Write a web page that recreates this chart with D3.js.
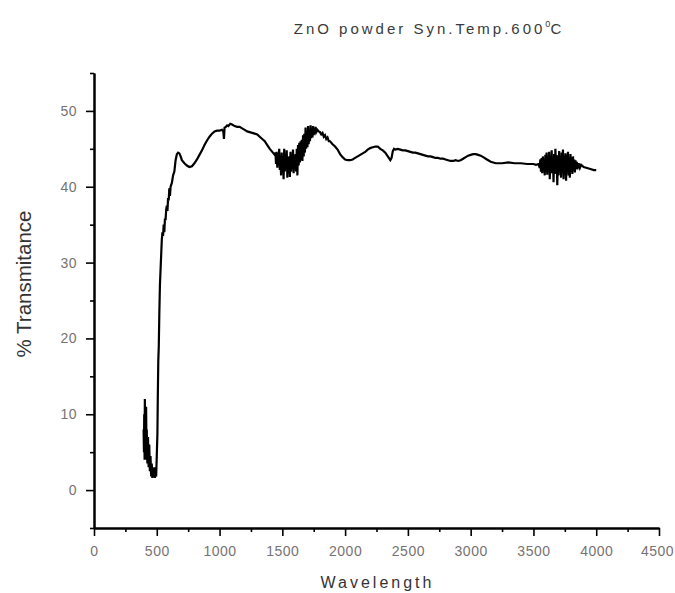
<!DOCTYPE html>
<html>
<head>
<meta charset="utf-8">
<script src="https://cdn.jsdelivr.net/npm/d3@7"></script>
<style>
  body { margin: 0; background: #fff; }
  svg { display: block; font-family: "Liberation Sans", Arial, sans-serif; }
</style>
</head>
<body>
<svg id="chart" width="675" height="593"></svg>
<script>
// wavelength / transmittance
const wavelength = [
  395,398,400,403,405,408,410,413,415,418,420,425,430,435,440,445,450,455,460,465,470,475,480,485,490,495,
  500,505,508,512,516,520,525,530,535,540,545,550,555,560,565,570,575,580,585,590,595,600,605,610,620,630,640,650,660,670,680,690,
  700,720,740,760,780,800,820,840,860,880,900,920,940,960,980,1000,1020,1030,1035,1040,1050,1060,1070,1085,
  1100,1120,1140,1160,1180,1200,1220,1240,1260,1280,1300,1320,1340,1360,1380,1400,1420,1440,
  1445,1450,1455,1460,1465,1470,1475,1480,1485,1490,1495,1500,1505,1510,1515,1520,1525,1530,1535,1540,1545,1550,
  1555,1560,1565,1570,1575,1580,1585,1590,1595,1600,1605,1610,1615,1620,1625,1630,1635,1640,1645,1650,1655,1660,
  1665,1670,1675,1680,1685,1690,1695,1700,1705,1710,1715,1720,1725,1730,1735,1740,1745,1750,1755,1760,1765,1770,
  1780,1790,1800,1810,1820,1830,1840,1850,1860,1870,1880,1900,1920,1940,1960,1980,2000,2020,2040,2060,2080,2100,
  2120,2140,2160,2180,2200,2220,2240,2260,2280,2300,2320,2340,2360,2370,2380,2390,2400,2420,2440,2460,2480,2500,
  2520,2540,2560,2580,2600,2620,2640,2660,2680,2700,2720,2740,2760,2780,2800,2820,2840,2860,2880,2900,2920,2940,
  2960,2980,3000,3020,3040,3060,3080,3100,3120,3140,3160,3180,3200,3250,3300,3350,3400,3450,3500,3520,3540,
  3550,3555,3560,3565,3570,3575,3580,3585,3590,3595,3600,3605,3610,3615,3620,3625,3630,3635,3640,3645,3650,3655,
  3660,3665,3670,3675,3680,3685,3690,3695,3700,3705,3710,3715,3720,3725,3730,3735,3740,3745,3750,3755,3760,3765,
  3770,3775,3780,3785,3790,3795,3800,3805,3810,3815,3820,3825,3830,3835,3840,3845,3850,3860,3870,3880,3900,3920,
  3940,3960,3980,4000
];
const transmittance = [
  8,5,10,4,12,6,9,4,11,5,8,3.5,7,3,6,2.5,4.5,1.8,3.5,1.6,2.5,1.7,3.0,1.6,2.2,1.8,
  4.5,7.4,12,17,19,23,27,29,31,33,34,33.5,35,34,35.8,35.6,37,37.5,36.8,38.5,38.2,39.8,38.8,40,40.5,41.5,42.0,43.5,44.3,44.5,44.4,44.0,
  43.5,43.1,42.8,42.6,42.7,43.1,43.6,44.2,44.8,45.5,46.1,46.6,47.0,47.3,47.4,47.4,47.5,47.3,46.3,47.8,47.9,48.1,48.0,48.3,
  48.2,48.0,47.9,47.9,47.7,47.5,47.3,47.2,47.1,47.0,46.9,46.6,46.3,46.0,45.5,45.0,44.6,44.2,
  44.5,43.0,44.6,42.5,44.4,42.8,45.0,42.2,44.0,41.5,44.5,42.5,43.8,41.0,45.0,42.0,44.2,42.6,44.8,41.2,43.9,42.4,
  44.0,41.3,44.6,42.0,43.5,42.8,44.9,41.8,44.0,42.3,44.3,42.0,45.0,41.5,45.5,42.8,45.8,43.2,46.0,43.5,46.2,43.4,
  46.8,44.0,47.0,44.5,47.8,45.0,47.3,45.2,48.0,45.6,47.5,46.0,48.1,46.4,47.6,46.5,48.0,46.8,47.7,47.0,47.9,47.2,
  47.5,47.3,47.2,46.9,47.1,46.6,46.8,46.3,46.5,46.0,46.0,45.6,45.3,44.9,44.3,43.9,43.6,43.5,43.5,43.6,43.8,44.0,
  44.2,44.4,44.6,44.9,45.1,45.2,45.3,45.3,45.0,44.8,44.5,44.0,43.5,43.8,44.7,45.0,44.9,45.0,44.9,44.8,44.8,44.7,
  44.6,44.5,44.5,44.4,44.3,44.2,44.1,44.0,44.0,43.9,43.8,43.8,43.7,43.7,43.6,43.5,43.4,43.4,43.5,43.4,43.5,43.7,
  43.9,44.1,44.2,44.3,44.3,44.2,44.1,43.9,43.7,43.5,43.3,43.2,43.1,43.1,43.2,43.1,43.1,43.0,43.0,42.9,43.0,
  42.5,43.6,42.0,43.8,41.8,44.0,42.3,43.5,41.5,44.2,42.0,44.5,41.6,43.8,42.2,44.6,41.0,44.0,41.8,44.8,42.0,43.9,
  40.6,44.3,41.7,45.0,42.1,44.2,40.2,44.0,41.5,44.7,42.4,43.9,41.2,44.5,42.0,44.9,41.0,44.1,41.9,44.4,40.8,44.2,
  42.3,44.6,41.5,43.8,41.2,44.3,42.0,43.9,41.7,44.0,42.2,43.6,41.9,43.5,42.4,43.3,42.3,43.1,42.5,42.9,42.6,42.5,
  42.4,42.3,42.2,42.2
];

const xMajor = d3.range(0, 4501, 500);
const xMinor = d3.range(250, 4500, 500);
const yMajor = [0, 10, 20, 30, 40, 50];
const yMinor = [-5, 5, 15, 25, 35, 45, 55];

const svg = d3.select('#chart');
const plotLeft = 94, plotRight = 659, plotTop = 73, plotBottom = 528;

const x = d3.scaleLinear().domain([0, 4500]).range([plotLeft, plotRight]);
const y = d3.scaleLinear().domain([-5, 55]).range([plotBottom, plotTop]);

const labelColor = '#787272';

// x axis
const gx = svg.append('g').attr('transform', `translate(0,${plotBottom})`);
gx.call(d3.axisBottom(x).tickValues(xMajor).tickSize(8).tickSizeOuter(0).tickPadding(10).tickFormat(d3.format('d')));
gx.append('g').call(d3.axisBottom(x).tickValues(xMinor).tickSize(4).tickSizeOuter(0).tickFormat(''));
gx.selectAll('.domain').attr('stroke', '#000').attr('stroke-width', 2);
gx.selectAll('.tick line').attr('stroke', '#000').attr('stroke-width', 1.6);
gx.selectAll('.tick text').attr('fill', labelColor).style('font-size', '14px').style('letter-spacing', '0.5px');
// last label sits right at the page edge
gx.selectAll('.tick text').filter(d => d === 4500).attr('dx', -2);

// y axis
const gy = svg.append('g').attr('transform', `translate(${plotLeft},0)`);
gy.call(d3.axisLeft(y).tickValues(yMajor).tickSize(8).tickSizeOuter(0).tickPadding(9).tickFormat(d3.format('d')));
gy.append('g').call(d3.axisLeft(y).tickValues(yMinor).tickSize(4).tickSizeOuter(0).tickFormat(''));
gy.selectAll('.domain').attr('stroke', '#000').attr('stroke-width', 2);
gy.selectAll('.tick line').attr('stroke', '#000').attr('stroke-width', 1.6);
gy.selectAll('.tick text').attr('fill', labelColor).style('font-size', '14px').style('letter-spacing', '0.5px');

// the spectrum
const pts = wavelength.map((w, i) => [w, transmittance[i]]);
svg.append('path')
  .datum(pts)
  .attr('fill', 'none')
  .attr('stroke', '#000')
  .attr('stroke-width', 2.2)
  .attr('d', d3.line().x(d => x(d[0])).y(d => y(d[1])));

// title
const title = svg.append('text')
  .attr('x', 429).attr('y', 34)
  .attr('text-anchor', 'middle')
  .attr('fill', '#3a3a3a')
  .style('font-size', '15px')
  .style('letter-spacing', '3px')
  .text('ZnO powder Syn.Temp.600');
title.append('tspan').attr('dy', -7).style('font-size', '9px').style('letter-spacing', '0px').text('0');
title.append('tspan').attr('dy', 7).text('C');

// axis titles
svg.append('text')
  .attr('x', (plotLeft + plotRight) / 2 + 1).attr('y', 588)
  .attr('text-anchor', 'middle')
  .attr('fill', '#333')
  .style('font-size', '16px')
  .style('letter-spacing', '3px')
  .text('Wavelength');

svg.append('text')
  .attr('transform', 'translate(31,284) rotate(-90)')
  .attr('text-anchor', 'middle')
  .attr('fill', '#333')
  .style('font-size', '20.5px')
  .text('% Transmitance');
</script>
</body>
</html>
